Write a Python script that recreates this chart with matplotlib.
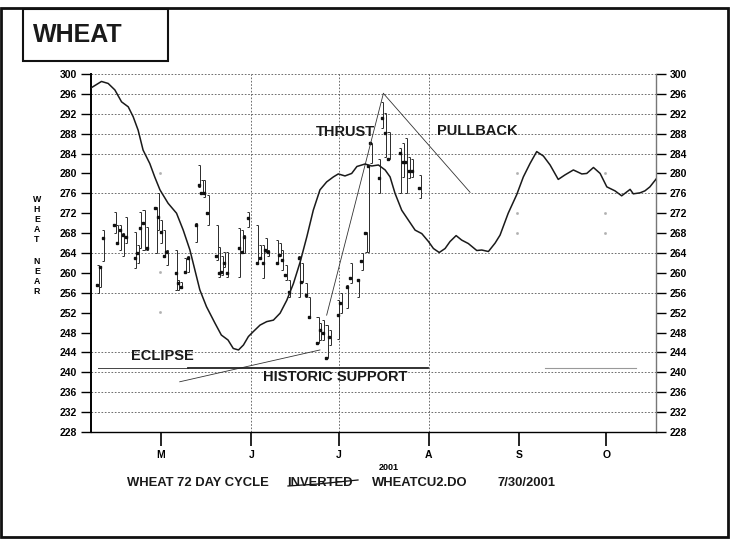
import matplotlib
matplotlib.use("Agg")
import matplotlib.pyplot as plt
from matplotlib.patches import Rectangle
from matplotlib.lines import Line2D

W, H = 731, 539
plt.rcParams["font.family"] = ["Liberation Sans", "DejaVu Sans"]

# ── Data (x = day of year 2001) ───────────────────────────────────────────────

cycle_day = [96.9, 100.5, 102.8, 105.1, 107.4, 109.7, 111.4, 113.1, 114.8, 117.1,
             118.8, 120.6, 123.4, 126.3, 128.6, 130.9, 132.6, 134.3, 136.6, 139.5,
             141.7, 144.0, 145.8, 147.6, 149.3, 151.0, 152.7, 155.0, 157.3, 159.6,
             161.9, 164.2, 166.5, 168.8, 171.1, 173.3, 175.6, 177.9, 180.2, 181.9,
             184.2, 186.5, 188.3, 191.1, 193.4, 195.7, 198.0, 199.7, 201.4, 203.7,
             206.0, 208.3, 210.6, 212.9, 214.6, 216.6, 218.6, 220.3, 222.4, 224.3,
             226.6, 229.5, 231.2, 233.5, 235.8, 237.5, 240.3, 243.2, 245.5, 247.8,
             250.1, 252.4, 254.7, 257.5, 259.8, 262.7, 265.6, 267.3, 269.6, 271.9,
             274.2, 277.0, 279.3, 282.2, 283.3, 285.6, 287.3, 289.0, 291.3]
cycle_val = [297.2, 298.5, 298.1, 296.8, 294.4, 293.4, 291.4, 288.7, 284.7, 282.0,
             279.3, 276.7, 274.0, 272.0, 268.6, 264.6, 260.6, 256.6, 253.2, 249.9,
             247.5, 246.5, 244.8, 244.5, 245.5, 247.2, 248.2, 249.5, 250.2, 250.5,
             251.9, 254.5, 257.9, 262.2, 267.3, 272.6, 276.7, 278.3, 279.3, 279.9,
             279.5, 280.0, 281.4, 281.9, 281.5, 281.7, 280.7, 279.3, 276.0, 272.6,
             270.6, 268.6, 267.9, 266.3, 264.9, 264.1, 264.9, 266.3, 267.5, 266.6,
             265.9, 264.5, 264.6, 264.3, 266.0, 267.6, 272.0, 275.7, 279.3, 282.0,
             284.4, 283.5, 281.7, 278.8, 279.7, 280.7, 279.9, 280.0, 281.2, 280.0,
             277.3, 276.5, 275.5, 276.8, 275.9, 276.1, 276.5, 277.3, 279.0]

bar_day = [99.5, 100.3, 101.4, 105.4, 106.3, 107.3, 108.3, 109.4, 112.4, 113.3,
           114.1, 115.3, 116.6, 119.5, 120.4, 121.3, 122.4, 123.3, 126.4, 127.3,
           128.2, 129.6, 130.7, 133.3, 134.4, 135.3, 136.1, 137.3, 140.4, 141.3,
           142.2, 143.1, 144.1, 148.2, 149.1, 150.0, 151.3, 154.4, 155.4, 156.3,
           157.3, 158.2, 161.3, 162.1, 163.0, 164.2, 165.3, 168.8, 169.7, 171.1,
           172.2, 175.1, 176.0, 177.0, 178.2, 179.3, 182.3, 183.1, 185.4, 186.5,
           189.1, 190.3, 191.7, 192.6, 193.4, 196.3, 197.4, 198.3, 199.5, 203.4,
           204.5, 205.4, 206.6, 207.7, 210.2]
bar_high = [261.6, 261.2, 268.6, 272.3, 269.6, 269.6, 268.0, 271.3, 268.3, 265.6,
            272.3, 272.6, 269.3, 273.3, 276.0, 270.6, 268.6, 264.6, 264.6, 258.6,
            258.2, 262.9, 263.3, 270.0, 281.7, 278.7, 278.7, 275.7, 269.6, 265.3,
            263.3, 264.3, 264.3, 269.0, 268.6, 267.6, 272.3, 269.6, 265.6, 265.6,
            267.0, 264.6, 266.6, 266.0, 264.6, 261.6, 258.6, 263.3, 261.9, 257.9,
            255.2, 251.2, 249.9, 250.5, 249.5, 248.5, 254.6, 255.9, 257.6, 261.9,
            258.6, 263.9, 268.3, 281.4, 286.1, 283.0, 294.4, 292.1, 288.4, 285.1,
            286.1, 287.1, 283.4, 283.0, 279.7]
bar_low = [255.9, 257.2, 262.3, 268.0, 266.0, 264.6, 263.3, 266.0, 260.9, 261.9,
           265.0, 264.6, 264.6, 263.9, 268.6, 266.0, 263.3, 261.6, 256.6, 256.6,
           256.9, 260.2, 260.2, 266.3, 277.3, 276.0, 275.3, 269.6, 262.6, 259.2,
           259.6, 261.2, 259.2, 259.2, 263.9, 263.9, 269.3, 261.9, 262.9, 258.9,
           264.3, 263.3, 261.9, 263.3, 260.6, 258.6, 255.2, 255.2, 258.2, 255.2,
           250.9, 245.8, 246.5, 246.5, 242.8, 245.5, 246.8, 251.9, 252.9, 257.9,
           255.2, 260.6, 264.3, 264.3, 282.0, 276.0, 289.1, 283.4, 283.0, 276.0,
           279.3, 276.0, 279.0, 279.3, 275.0]
bar_close = [257.6, 261.1, 267.0, 269.6, 266.0, 268.6, 267.6, 267.2, 262.9, 263.9,
             269.0, 270.0, 265.0, 273.0, 271.3, 268.3, 263.3, 264.3, 259.9, 257.9,
             257.2, 260.2, 262.9, 269.6, 277.7, 276.0, 276.0, 272.0, 263.3, 259.9,
             260.2, 261.9, 259.9, 265.0, 264.3, 267.3, 271.0, 261.9, 262.9, 261.9,
             264.6, 264.3, 261.9, 263.6, 262.6, 259.6, 256.2, 262.9, 258.2, 255.6,
             251.2, 245.8, 248.5, 247.9, 242.8, 247.2, 251.5, 253.9, 257.2, 258.9,
             258.6, 262.3, 268.0, 281.4, 286.1, 279.0, 291.1, 288.1, 283.0, 284.1,
             282.4, 282.4, 280.4, 280.4, 277.0]

faint_day = [120.6, 120.6, 120.6, 243.2, 243.2, 243.2, 273.6, 273.6, 273.6]
faint_val = [280.0, 260.1, 252.2, 280.0, 272.0, 268.0, 280.0, 272.0, 268.0]

thrust_day, thrust_val = [177.9, 197.4], [251.5, 296.1]
pullback_day, pullback_val = [197.4, 227.2], [296.1, 276.2]
eclipse_day, eclipse_val = [127.4, 175.6], [238.1, 244.5]
support_thin_day, support_thin_val = [99.4, 130.3], [240.8, 240.8]
support_day, support_val = [130.3, 212.8], [240.8, 240.8]
support_right_day, support_right_val = [253.0, 284.2], [240.9, 240.9]

y_ticks = list(range(228, 301, 4))
grid_levels = [232, 236, 240, 244, 256, 264, 276, 284, 288, 292, 296, 300]
month_days = [121, 152, 182, 213, 244, 274]
month_labels = ["M", "J", "J", "A", "S", "O"]
vgrid_days = [152, 182, 213]


def fx(x):
    return x / W


def fy(y):
    return 1 - y / H


# ── Figure ────────────────────────────────────────────────────────────────────

fig = plt.figure(figsize=(W / 100, H / 100), dpi=100)
ax = fig.add_axes([fx(91), fy(432), fx(656) - fx(91), fy(74) - fy(432)])
ax.set_xlim(96.9, 291.1)
ax.set_ylim(228, 300)

for lv in grid_levels:
    ax.axhline(lv, color="#555555", lw=0.6, ls=(0, (2, 2)), zorder=1)
for d in vgrid_days:
    ax.axvline(d, color="#555555", lw=0.6, ls=(0, (2, 2)), zorder=1)

# price bars: high-low with left caps, close as dot
bar_col = "#2a2a2a"
ax.vlines(bar_day, bar_low, bar_high, color=bar_col, lw=0.7, zorder=3)
cap = 0.7
ax.hlines(bar_high, [d - cap for d in bar_day], bar_day, color=bar_col, lw=0.7, zorder=3)
ax.hlines(bar_low, [d - cap for d in bar_day], bar_day, color=bar_col, lw=0.7, zorder=3)
ax.plot([d - 0.45 for d in bar_day], bar_close, ls="none", marker="s", ms=1.8,
        color="#111111", zorder=4)

ax.plot(faint_day, faint_val, ls="none", marker="s", ms=0.9, color="#b0b0b0", zorder=2)

ax.plot(cycle_day, cycle_val, color="#1a1a1a", lw=1.1, zorder=5)

ax.plot(thrust_day, thrust_val, color="#333333", lw=0.6, zorder=4)
ax.plot(pullback_day, pullback_val, color="#333333", lw=0.6, zorder=4)
ax.plot(eclipse_day, eclipse_val, color="#333333", lw=0.6, zorder=4)
ax.plot(support_thin_day, support_thin_val, color="#444444", lw=0.7, zorder=4)
ax.plot(support_day, support_val, color="#222222", lw=1.3, zorder=4)
ax.plot(support_right_day, support_right_val, color="#999999", lw=0.8, zorder=4)

# axes styling
ax.spines["top"].set_visible(False)
ax.spines["left"].set_linewidth(1.4)
ax.spines["bottom"].set_linewidth(1.0)
ax.spines["right"].set_color("#777777")
ax.spines["right"].set_linewidth(1.0)

ax.set_yticks(y_ticks)
ax.set_yticklabels([str(v) for v in y_ticks])
ax.tick_params(axis="y", which="both", left=True, right=True, labelleft=True,
               labelright=True, length=7.5, width=1.0, pad=2.5, labelsize=7.5,
               direction="out")
for lab in ax.get_yticklabels():
    lab.set_fontweight("bold")

ax.set_xticks(month_days)
ax.set_xticklabels(month_labels)
ax.tick_params(axis="x", length=10, width=1.2, pad=3, labelsize=7.5, direction="out")
for lab in ax.get_xticklabels():
    lab.set_fontweight("bold")

# annotations
txt = dict(fontsize=10.5, fontweight="bold", color="#1a1a1a", va="center", ha="left")
fig.text(fx(131), fy(356), "ECLIPSE", **txt)
fig.text(fx(263), fy(377), "HISTORIC SUPPORT", **txt)
fig.text(fx(316), fy(132), "THRUST", **txt)
fig.text(fx(437), fy(131), "PULLBACK", **txt)

# vertical axis label, one letter per row
for ch, y in zip("WHEATNEAR", [199, 209, 219, 229, 239, 262, 272, 282, 292]):
    fig.text(fx(37), fy(y), ch, fontsize=6.3, fontweight="bold", ha="center",
             va="center")

# caption
fig.text(fx(389), fy(467), "2001", fontsize=6.5, fontweight="bold", ha="center", va="center")
cap_kw = dict(fontsize=9.4, fontweight="bold", color="#1a1a1a", va="center", ha="left")
fig.text(fx(127), fy(483), "WHEAT 72 DAY CYCLE", **cap_kw)
fig.text(fx(287), fy(483), "INVERTED", **cap_kw)
fig.text(fx(372), fy(483), "WHEATCU2.DO", **cap_kw)
fig.text(fx(497), fy(483), "7/30/2001", **cap_kw)
fig.add_artist(Line2D([fx(288), fx(318), fx(358)], [fy(486), fy(484), fy(480)],
                      color="#111111", lw=0.9))

# title box and frame
fig.add_artist(Rectangle((fx(23), fy(61)), fx(168) - fx(23), fy(9) - fy(61),
                         fill=False, lw=1.5, ec="#111111"))
fig.text(fx(33), fy(35), "WHEAT", fontsize=18, fontweight="bold", ha="left",
         va="center", color="#1a1a1a")
fig.add_artist(Rectangle((fx(1), fy(537)), fx(728) - fx(1), fy(8) - fy(537),
                         fill=False, lw=2.0, ec="#111111"))

fig.savefig("out.png", dpi=100)
